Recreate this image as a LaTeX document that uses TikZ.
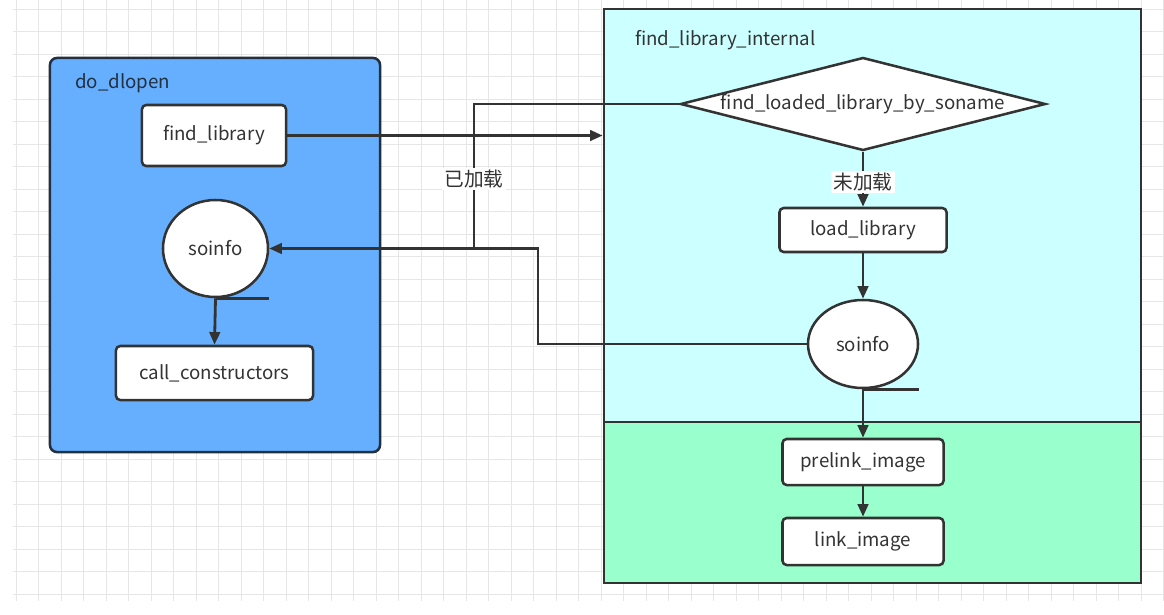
\documentclass[tikz,border=0pt]{standalone}
\usepackage{fontspec}
\setmainfont{Noto Sans CJK SC}
\usepackage{xcolor}
\usetikzlibrary{shapes.geometric,arrows.meta,positioning,calc}

\definecolor{dlblue}{HTML}{66AFFF}
\definecolor{dlborder}{HTML}{22303F}
\definecolor{cyanpart}{HTML}{CCFFFF}
\definecolor{greenpart}{HTML}{99FFCC}
\definecolor{inkgray}{HTML}{333333}
\definecolor{gridgray}{HTML}{E6E6E6}

\begin{document}
\begin{tikzpicture}[x=0.025cm, y=-0.025cm,
    group_box/.style={rectangle, draw=inkgray, line width=1.8pt, inner sep=0pt},
    func_box/.style={rectangle, draw=inkgray, fill=white, rounded corners=3pt, line width=1.8pt, text=inkgray, font=\fontsize{13.3pt}{16pt}\selectfont},
    data_circle/.style={ellipse, draw=inkgray, fill=white, line width=1.8pt, text=inkgray, inner sep=0pt, font=\fontsize{13.3pt}{16pt}\selectfont},
    check_diamond/.style={diamond, aspect=3.9, draw=inkgray, fill=white, line width=1.8pt, text=inkgray, inner sep=0pt, font=\fontsize{13.3pt}{16pt}\selectfont},
    group_title/.style={anchor=west, inner sep=0pt, font=\fontsize{13.3pt}{16pt}\selectfont},
    edge_label/.style={fill=white, inner sep=1.5pt, text=inkgray, font=\fontsize{14pt}{17pt}\selectfont},
    main_arrow/.style={->, >={Triangle[length=9pt,width=7.5pt]}, draw=inkgray, line width=2pt},
    plain_line/.style={draw=inkgray, line width=2pt},
    grid_line/.style={draw=gridgray, line width=0.5pt}
]

% Page and background grid
\useasboundingbox (0,0) rectangle (1164,614);
\fill[white] (0,0) rectangle (1164,614);
\foreach \gx in {16,38.5,...,1164} \draw[grid_line] (\gx,0) -- (\gx,601);
\foreach \gy in {9,31.5,...,600} \draw[grid_line] (13,\gy) -- (1164,\gy);

% Left group: do_dlopen
\node[group_box, draw=dlborder, fill=dlblue, rounded corners=5pt, minimum width=8.25cm, minimum height=9.85cm] (dlopen) at (215,255) {};
\node[group_title, text=dlborder] (dlopen_title) at (75,83) {do\_dlopen};

\node[func_box, minimum width=3.6cm, minimum height=1.525cm] (findlib) at (214,135.5) {find\_library};
\node[data_circle, minimum width=2.625cm, minimum height=2.425cm] (soinfoL) at (215.5,248.5) {soinfo};
\node[func_box, minimum width=4.925cm, minimum height=1.35cm] (ctors) at (214.5,373) {call\_constructors};

% Right group: find_library_internal
\node[group_box, fill=cyanpart, minimum width=13.425cm, minimum height=10.325cm] (internal) at (872.5,215.5) {};
\node[group_box, fill=greenpart, minimum width=13.425cm, minimum height=4.025cm] (linkpart) at (872.5,502.5) {};
\node[group_title, text=inkgray] (internal_title) at (635,40) {find\_library\_internal};

\node[check_diamond, minimum width=9.125cm, minimum height=2.325cm] (loaded) at (863,104) {find\_loaded\_library\_by\_soname};
\node[func_box, minimum width=4.175cm, minimum height=1.1cm] (loadlib) at (863,230) {load\_library};
\node[data_circle, minimum width=2.75cm, minimum height=2.2cm] (soinfoR) at (863,344) {soinfo};
\node[func_box, minimum width=4.025cm, minimum height=1.15cm] (prelink) at (863,462) {prelink\_image};
\node[func_box, minimum width=4.025cm, minimum height=1.175cm] (linkimg) at (863,541.5) {link\_image};

% Tails of the soinfo shapes
\draw[plain_line] (soinfoL.south) -- (soinfoL.south -| soinfoL.east);
\draw[plain_line] (soinfoR.south) -- (soinfoR.south -| soinfoR.east);

% Flow inside do_dlopen
\draw[main_arrow] (findlib.east) -- (findlib.east -| internal.west);
\draw[main_arrow] (soinfoL.south) -- (ctors.north);

% Flow inside find_library_internal
\draw[main_arrow] (loaded.south) -- node[edge_label, pos=0.55] {未加载} (loadlib.north);
\draw[main_arrow] (loadlib.south) -- (soinfoR.north);
\draw[main_arrow] (soinfoR.south) -- (prelink.north);
\draw[main_arrow] (prelink.south) -- (linkimg.north);

% Return paths to soinfo
\coordinate (join_pt) at (474,248.5);
\coordinate (turn_pt) at (538,248.5);
\draw[main_arrow] (soinfoR.west) -| (turn_pt) -- (soinfoL.east);
\draw[plain_line] (loaded.west) -| node[edge_label, pos=0.76] {已加载} (join_pt);

\end{tikzpicture}
\end{document}
